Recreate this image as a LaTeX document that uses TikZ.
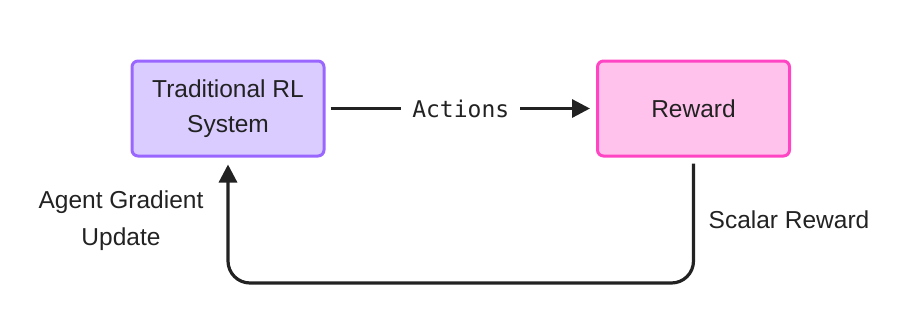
\documentclass[tikz,border=0pt]{standalone}
\usepackage{fontspec}
\setmainfont{Liberation Sans}
\setmonofont{DejaVu Sans Mono}
\usetikzlibrary{arrows.meta}
\definecolor{ink}{HTML}{222222}
\definecolor{rlline}{HTML}{9966FF}
\definecolor{rlfill}{HTML}{DACCFF}
\definecolor{rwline}{HTML}{FF44C4}
\definecolor{rwfill}{HTML}{FFC2EC}
\begin{document}
\begin{tikzpicture}[x=1pt,y=-1pt,
  every node/.style={font=\fontsize{24.5}{35}\selectfont,text=ink},
  blockbox/.style={draw,line width=3pt,rounded corners=6pt,minimum width=192pt,minimum height=95pt,align=center},
  flow/.style={ink,line width=3.2pt,-{Triangle[length=18pt,width=18pt]}}]
\useasboundingbox (0,0) rectangle (922,330);
\node[blockbox,draw=rlline,fill=rlfill] (trl) at (228,108.5) {Traditional RL\\System};
\node[blockbox,draw=rwline,fill=rwfill] (rew) at (693.5,108.5) {Reward};
% actions
\draw[flow,shorten <=5pt,shorten >=6pt] (trl) -- (rew)
  node[midway,fill=white,inner xsep=11pt,font=\fontsize{23}{26}\ttfamily] (act) {Actions};
% feedback loop
\draw[flow,rounded corners=22pt,shorten <=6pt,shorten >=7pt] (rew.south) -- (rew.south |- 0,283) -| (trl.south);
\node[align=center,font=\fontsize{24.5}{37}\selectfont] (agu) at (121,221) {Agent Gradient\\Update};
\node (scr) at (789,220) {Scalar Reward};
\end{tikzpicture}
\end{document}
